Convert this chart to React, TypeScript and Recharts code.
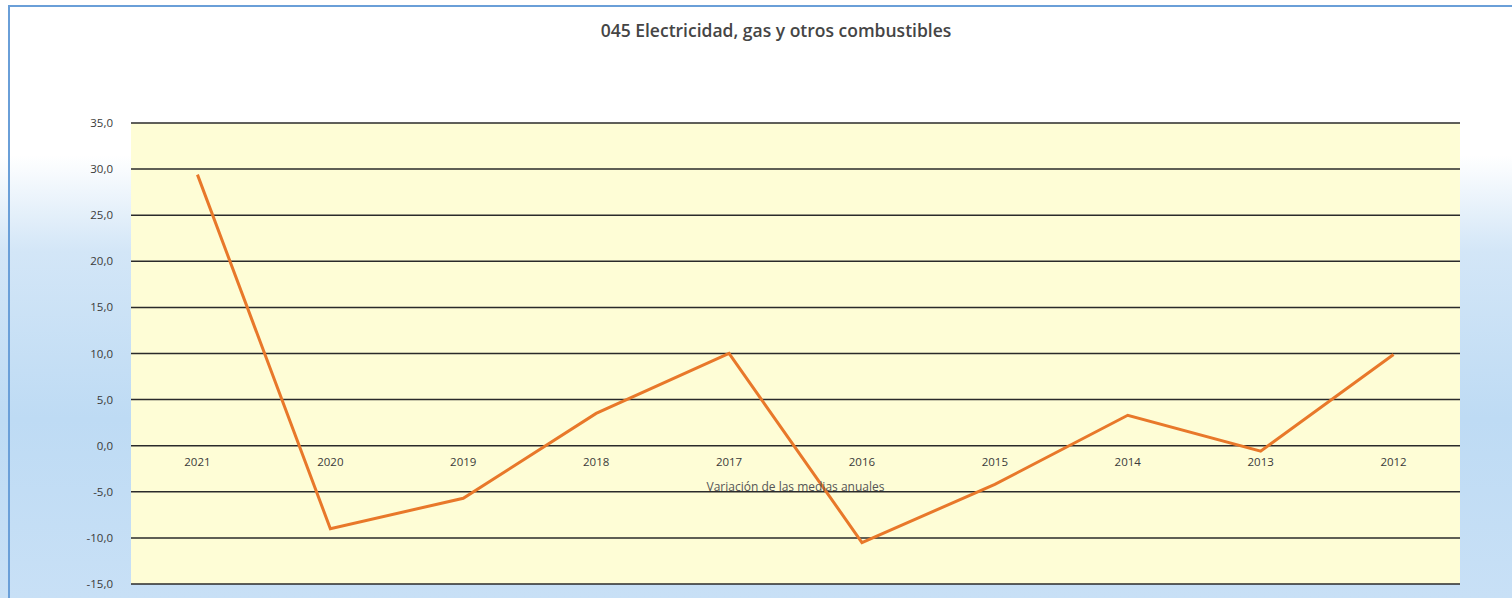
import { CartesianGrid, Legend, Line, LineChart, ReferenceDot, XAxis, YAxis } from 'recharts';

const years = ['2021', '2020', '2019', '2018', '2017', '2016', '2015', '2014', '2013', '2012'];
const variation = [29.4, -9.0, -5.7, 3.5, 10.0, -10.5, -4.2, 3.3, -0.6, 9.9];
const yTicks = [-15, -10, -5, 0, 5, 10, 15, 20, 25, 30, 35];

const TITLE = '045 Electricidad, gas y otros combustibles';
const SERIES_NAME = 'Variación de las medias anuales';

const data = years.map((year, i) => ({ year, value: variation[i] }));

const FONT = '"Open Sans", "Noto Sans", sans-serif';
const LINE_COLOR = '#E8782A';
const TEXT_COLOR = '#3a3a3a';

const formatComma = (v: number) => v.toFixed(1).replace('.', ',');

const SeriesLegend = ({ payload }: { payload?: Array<{ value?: string }> }) => (
    <div
        style={{
            textAlign: 'center',
            fontFamily: FONT,
            fontSize: 12,
            color: '#555',
        }}
    >
        {payload?.[0]?.value}
    </div>
);

export default function App() {
    return (
        <div
            style={{
                position: 'fixed',
                top: 0,
                left: 0,
                width: 1512,
                height: 598,
                overflow: 'hidden',
                background:
                    'linear-gradient(to bottom, #ffffff 0%, #ffffff 26%, #d3e6f7 42%, #bedbf4 70%, #c8e0f6 100%)',
            }}
        >
            <div
                style={{
                    position: 'absolute',
                    top: 5,
                    left: 8,
                    right: 0,
                    bottom: 0,
                    borderTop: '2px solid #6a9fd8',
                    borderLeft: '2px solid #6a9fd8',
                }}
            />
            <div
                style={{
                    position: 'absolute',
                    top: 18,
                    left: 0,
                    width: 1552,
                    textAlign: 'center',
                    fontFamily: FONT,
                    fontSize: 17.5,
                    fontWeight: 600,
                    color: '#454545',
                }}
            >
                {TITLE}
            </div>
            <div style={{ position: 'absolute', top: 0, left: 0 }}>
                <LineChart
                    width={1512}
                    height={598}
                    data={data}
                    margin={{ top: 123, right: 52, bottom: 14, left: 81 }}
                >
                    <CartesianGrid
                        vertical={false}
                        stroke='#2a2a2a'
                        strokeWidth={1.5}
                        fill='#FEFDD6'
                        fillOpacity={1}
                    />
                    <XAxis dataKey='year' type='category' scale='band' hide />
                    <YAxis
                        type='number'
                        domain={[-15, 35]}
                        ticks={yTicks}
                        width={50}
                        axisLine={false}
                        tickLine={false}
                        tickMargin={12}
                        tickFormatter={(v) => formatComma(Number(v))}
                        tick={{ fill: TEXT_COLOR, fontSize: 11.5, fontFamily: FONT }}
                    />
                    <Legend
                        verticalAlign='middle'
                        align='center'
                        content={<SeriesLegend />}
                        wrapperStyle={{ top: 478, left: 131, width: 1329 }}
                    />
                    {years.map((year) => (
                        <ReferenceDot
                            key={year}
                            x={year}
                            y={0}
                            r={0}
                            stroke='none'
                            fill='none'
                            label={{
                                value: year,
                                position: 'bottom',
                                offset: 12,
                                fill: TEXT_COLOR,
                                fontSize: 11.5,
                                fontFamily: FONT,
                            }}
                        />
                    ))}
                    <Line
                        type='linear'
                        dataKey='value'
                        name={SERIES_NAME}
                        stroke={LINE_COLOR}
                        strokeWidth={3}
                        dot={false}
                        activeDot={false}
                        isAnimationActive={false}
                    />
                </LineChart>
            </div>
        </div>
    );
}
